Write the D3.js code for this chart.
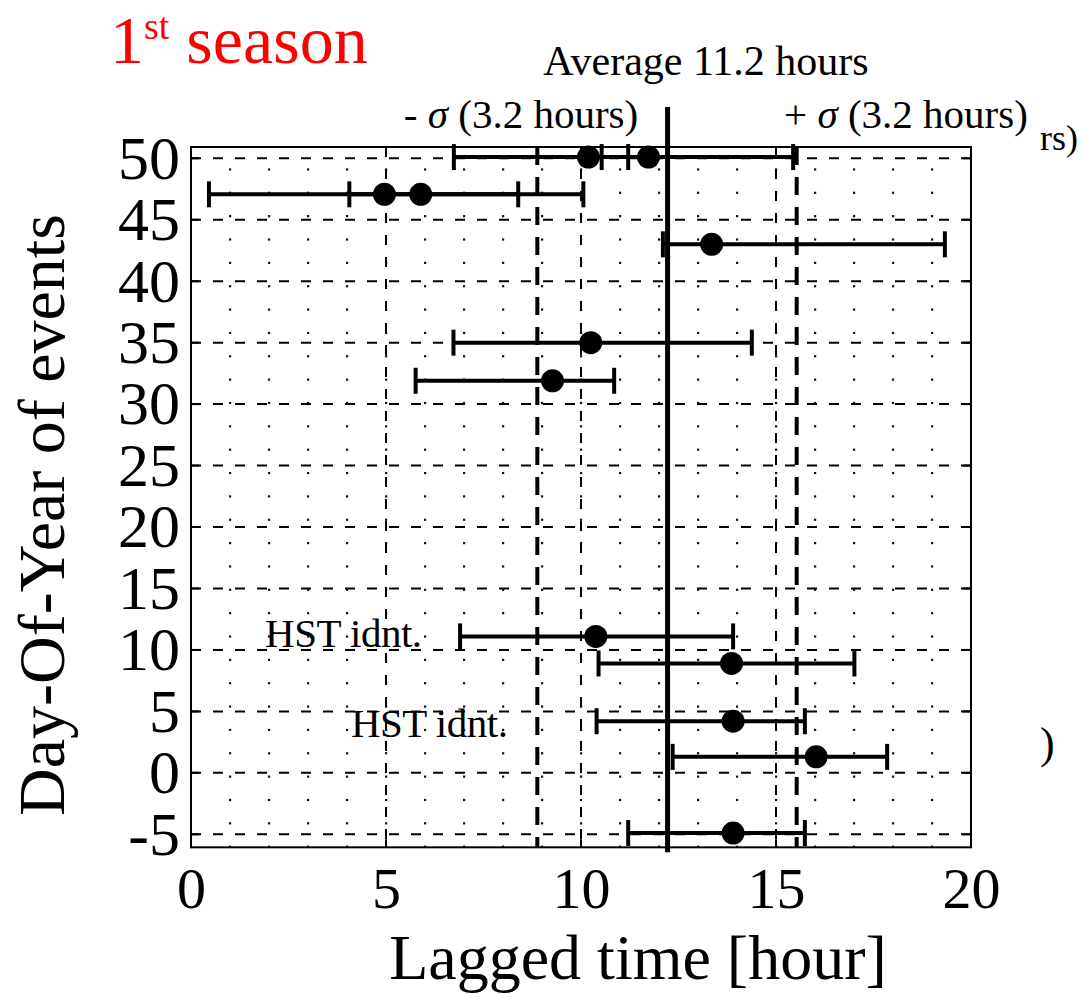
<!DOCTYPE html>
<html>
<head>
<meta charset="utf-8">
<script src="https://cdn.jsdelivr.net/npm/d3@7"></script>
<style>
  html, body { margin: 0; padding: 0; background: #fff; }
  svg { display: block; }
  text { font-family: "Liberation Serif", "DejaVu Serif", serif; fill: #000; }
</style>
</head>
<body>
<svg id="chart" width="1084" height="994"></svg>
<script>
// ---- data ----
const doy    = [50.1, 50.1, 47.07, 47.07, 43.0, 35.0, 31.9, 11.1, 8.9, 4.2, 1.3, -4.9];
const lag    = [10.19, 11.73, 4.96, 5.89, 13.35, 10.25, 9.27, 10.38, 13.86, 13.9, 16.03, 13.9];
const lagLo  = [6.74, 10.53, 0.46, 4.06, 12.1, 6.73, 5.76, 6.9, 10.45, 10.4, 12.35, 11.21];
const lagHi  = [11.21, 15.44, 8.39, 10.06, 19.33, 14.38, 10.85, 13.9, 17.01, 15.74, 17.85, 15.74];

const xTicks = [0, 5, 10, 15, 20];
const yTicks = [50, 45, 40, 35, 30, 25, 20, 15, 10, 5, 0, -5];
const avgLine = 12.22;
const sigmaLines = [8.88, 15.53];
const annotations = [
  { text: "HST idnt.", x: 1.9, y: 10.2 },
  { text: "HST idnt.", x: 4.1, y: 2.95 }
];
const dotCols = d3.range(1, 20);
const dotRows = d3.range(49.1, -6, -1.9);

// ---- scales ----
const x = d3.scaleLinear().domain([0, 20]).range([191, 971]);
const y = d3.scaleLinear().domain([50, -5]).range([158.3, 834.3]);
const yTop = 50.92, yBot = -6.06;

const svg = d3.select("#chart");

// dotted minor grid
const dots = svg.append("g");
dotRows.forEach(r => {
  dots.selectAll(null).data(dotCols).enter().append("rect")
    .attr("x", d => x(d) - 1).attr("y", y(r) - 1)
    .attr("width", 2.2).attr("height", 2.2).attr("fill", "#111");
});

// dashed major grid
const grid = svg.append("g").attr("stroke", "#000").attr("stroke-width", 2)
  .attr("stroke-dasharray", "10,12");
grid.selectAll("line.h").data(yTicks).enter().append("line")
  .attr("x1", x(0)).attr("x2", x(20))
  .attr("y1", d => y(d)).attr("y2", d => y(d));
grid.selectAll("line.v").data([5, 10, 15]).enter().append("line")
  .attr("x1", d => x(d)).attr("x2", d => x(d))
  .attr("y1", y(yTop)).attr("y2", y(yBot));

// sigma lines (thick dashed)
svg.append("g").selectAll("line").data(sigmaLines).enter().append("line")
  .attr("x1", d => x(d)).attr("x2", d => x(d))
  .attr("y1", y(yTop)).attr("y2", y(yBot))
  .attr("stroke", "#000").attr("stroke-width", 4).attr("stroke-dasharray", "18,12");

// average line
svg.append("line")
  .attr("x1", x(avgLine)).attr("x2", x(avgLine))
  .attr("y1", 107).attr("y2", y(yBot) + 5)
  .attr("stroke", "#000").attr("stroke-width", 5);

// frame
svg.append("rect")
  .attr("x", x(0)).attr("y", y(yTop))
  .attr("width", x(20) - x(0)).attr("height", y(yBot) - y(yTop))
  .attr("fill", "none").attr("stroke", "#000").attr("stroke-width", 2);

// inward ticks
const tk = svg.append("g").attr("stroke", "#000").attr("stroke-width", 2);
xTicks.forEach(t => {
  tk.append("line").attr("x1", x(t)).attr("x2", x(t)).attr("y1", y(yBot)).attr("y2", y(yBot) - 8);
  tk.append("line").attr("x1", x(t)).attr("x2", x(t)).attr("y1", y(yTop)).attr("y2", y(yTop) + 8);
});
yTicks.forEach(t => {
  tk.append("line").attr("x1", x(0)).attr("x2", x(0) + 8).attr("y1", y(t)).attr("y2", y(t));
  tk.append("line").attr("x1", x(20)).attr("x2", x(20) - 8).attr("y1", y(t)).attr("y2", y(t));
});

// error bars
const idx = d3.range(doy.length);
const eb = svg.append("g").attr("stroke", "#000");
eb.selectAll("line.bar").data(idx).enter().append("line")
  .attr("x1", i => x(lagLo[i])).attr("x2", i => x(lagHi[i]))
  .attr("y1", i => y(doy[i])).attr("y2", i => y(doy[i]))
  .attr("stroke-width", 4);
eb.selectAll("line.capL").data(idx).enter().append("line")
  .attr("x1", i => x(lagLo[i])).attr("x2", i => x(lagLo[i]))
  .attr("y1", i => y(doy[i]) - 13).attr("y2", i => y(doy[i]) + 13)
  .attr("stroke-width", 4);
eb.selectAll("line.capR").data(idx).enter().append("line")
  .attr("x1", i => x(lagHi[i])).attr("x2", i => x(lagHi[i]))
  .attr("y1", i => y(doy[i]) - 13).attr("y2", i => y(doy[i]) + 13)
  .attr("stroke-width", 4);
svg.append("g").selectAll("circle").data(idx).enter().append("circle")
  .attr("cx", i => x(lag[i])).attr("cy", i => y(doy[i]))
  .attr("r", 11.5).attr("fill", "#000");

// axes
const xAxis = svg.append("g").attr("transform", `translate(0,${y(yBot)})`)
  .call(d3.axisBottom(x).tickValues(xTicks).tickSize(0).tickPadding(19));
xAxis.select(".domain").remove();
xAxis.selectAll("text").attr("font-size", 58)
  .style("font-family", "'Liberation Serif', serif").attr("fill", "#000");

const yAxis = svg.append("g").attr("transform", `translate(${x(0)},0)`)
  .call(d3.axisLeft(y).tickValues(yTicks).tickSize(0).tickPadding(11)
    .tickFormat(d => d < 0 ? "-" + Math.abs(d) : d));
yAxis.select(".domain").remove();
yAxis.selectAll("text").attr("font-size", 62)
  .style("font-family", "'Liberation Serif', serif").attr("fill", "#000");

// axis titles
svg.append("text").attr("x", 638).attr("y", 979).attr("text-anchor", "middle")
  .attr("font-size", 64).text("Lagged time [hour]");
svg.append("text").attr("transform", "translate(64,515) rotate(-90)")
  .attr("text-anchor", "middle").attr("font-size", 66).text("Day-Of-Year of events");

// title
const title = svg.append("text").attr("x", 110).attr("y", 63)
  .attr("font-size", 68).style("fill", "#ff0000");
title.append("tspan").text("1");
title.append("tspan").attr("font-size", 38).attr("dy", -24).text("st");
title.append("tspan").attr("dy", 24).attr("dx", 17).text("season");

// reference-line labels
svg.append("text").attr("x", 706).attr("y", 75).attr("text-anchor", "middle")
  .attr("font-size", 42).text("Average 11.2 hours");
const sm = svg.append("text").attr("x", 521).attr("y", 128).attr("text-anchor", "middle")
  .attr("font-size", 41);
sm.append("tspan").text("- ");
sm.append("tspan").attr("font-style", "italic").text("σ");
sm.append("tspan").text(" (3.2 hours)");
const sp = svg.append("text").attr("x", 906).attr("y", 128).attr("text-anchor", "middle")
  .attr("font-size", 41);
sp.append("tspan").text("+ ");
sp.append("tspan").attr("font-style", "italic").text("σ");
sp.append("tspan").text(" (3.2 hours)");

// stray fragments from the underlying figure
svg.append("text").attr("x", 1040).attr("y", 150).attr("font-size", 36).text("rs)");
svg.append("text").attr("x", 1040).attr("y", 758).attr("font-size", 44).text(")");

// annotations
svg.append("g").selectAll("text").data(annotations).enter().append("text")
  .attr("x", d => x(d.x)).attr("y", d => y(d.y))
  .attr("font-size", 41).attr("letter-spacing", -0.5).text(d => d.text);
</script>
</body>
</html>
